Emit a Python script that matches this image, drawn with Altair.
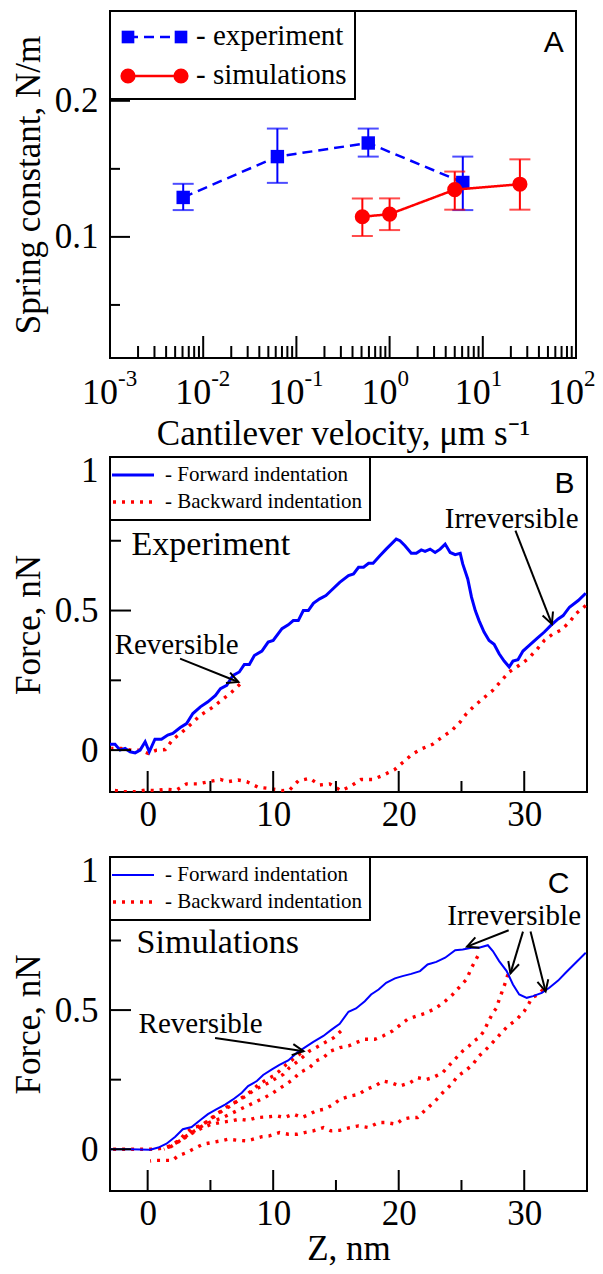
import math
import altair as alt
import pandas as pd

SERIF = "Liberation Serif"
SANS = "Liberation Sans"
BLUE = "#0000ff"
RED = "#ff0000"

# ---------------- Panel A data ----------------
exp_v = [0.0061, 0.0625, 0.59, 6.1]
exp_k = [0.129, 0.159, 0.169, 0.140]
exp_lo = [0.1197, 0.1397, 0.159, 0.1197]
exp_hi = [0.139, 0.1796, 0.1796, 0.159]
sim_v = [0.51, 1.0, 5.0, 25.0]
sim_k = [0.1148, 0.1167, 0.1347, 0.1387]
sim_lo = [0.1007, 0.105, 0.120, 0.120]
sim_hi = [0.1283, 0.1283, 0.148, 0.157]
a_decades = [-3, -2, -1, 0, 1, 2]
a_yticks = [0.1, 0.2]
a_yminor = [0.05, 0.15]

# ---------------- Panel B data ----------------
b_fwd_x = [-3.0, -2.6, -2.2, -1.8, -1.4, -1.0, -0.6, -0.2, 0.13, 0.58, 1.1, 1.6, 2.0, 2.6, 3.1, 3.6, 4.2, 4.8,
           5.4, 5.8, 6.3, 6.8, 7.3, 7.7, 8.1, 8.5, 9.1, 9.6, 10.0, 10.7, 11.2, 11.6, 12.0, 12.4, 12.8, 13.2, 13.7,
           14.2, 14.6, 15.3, 16.0, 16.4, 16.8, 17.2, 17.6, 17.96, 18.5, 19.0, 19.4, 19.8, 20.1, 20.5, 21.0, 21.4,
           21.8, 22.1, 22.5, 22.9, 23.3, 23.7, 24.1, 24.5, 24.9, 25.1, 25.5, 25.8, 26.1, 26.4, 26.8, 27.2, 27.6,
           28.0, 28.4, 28.8, 29.1, 29.5, 29.9, 30.4, 31.0, 31.6, 32.1, 32.7, 33.1, 33.6, 34.3, 34.9]
b_fwd_y = [0.021, 0.021, 0.0, 0.006, -0.006, -0.01, 0.0, 0.03, -0.006, 0.039, 0.039, 0.054, 0.06, 0.081, 0.095,
           0.131, 0.155, 0.173, 0.196, 0.22, 0.232, 0.268, 0.28, 0.307, 0.307, 0.339, 0.355, 0.387, 0.393, 0.435,
           0.449, 0.464, 0.464, 0.5, 0.5, 0.526, 0.542, 0.554, 0.571, 0.601, 0.625, 0.631, 0.655, 0.655, 0.669,
           0.669, 0.696, 0.72, 0.738, 0.756, 0.75, 0.732, 0.705, 0.705, 0.717, 0.712, 0.72, 0.708, 0.72, 0.738,
           0.708, 0.70, 0.705, 0.667, 0.613, 0.548, 0.5, 0.464, 0.423, 0.393, 0.379, 0.345, 0.319, 0.298, 0.319,
           0.324, 0.355, 0.375, 0.399, 0.423, 0.446, 0.47, 0.482, 0.512, 0.536, 0.562]
b_bwd1_x = [7.35, 6.7, 5.9, 5.1, 4.2, 3.5, 2.7, 2.0, 1.4, 0.7, 0.05, -0.6, -1.3, -2.1, -2.9]
b_bwd1_y = [0.236, 0.208, 0.179, 0.151, 0.125, 0.095, 0.063, 0.038, 0.002, 0.0, -0.012, 0.0, 0.0, 0.006, 0.006]
b_bwd2_x = [34.9, 34.1, 33.6, 32.9, 32.3, 31.6, 31.0, 30.3, 29.6, 28.8, 28.2, 27.5, 26.8, 26.0, 25.4, 24.9, 24.2,
            23.5, 22.7, 21.9, 21.1, 20.3, 19.7, 18.8, 17.96, 17.0, 16.1, 15.4, 14.5, 13.7, 12.9, 12.0, 11.3, 10.7,
            9.6, 8.8, 7.9, 7.2, 6.4, 5.8, 5.2, 4.0, 3.1, 2.3, 1.5, 0.6, -0.2, -1.0, -1.9, -2.9]
b_bwd2_y = [0.518, 0.488, 0.458, 0.429, 0.417, 0.393, 0.36, 0.327, 0.304, 0.28, 0.25, 0.214, 0.188, 0.157,
            0.131, 0.101, 0.069, 0.048, 0.021, 0.006, -0.014, -0.045, -0.069, -0.089, -0.105, -0.105, -0.131,
            -0.145, -0.121, -0.125, -0.101, -0.11, -0.143, -0.145, -0.137, -0.133, -0.113, -0.107, -0.113,
            -0.105, -0.11, -0.121, -0.121, -0.143, -0.14, -0.145, -0.143, -0.149, -0.149, -0.143]

# ---------------- Panel C data ----------------
c_fwd_x = [-3.0, -1.4, 0.2, 0.85, 1.5, 2.2, 2.8, 3.5, 4.2, 4.8, 5.5, 6.2, 6.8, 7.5, 8.0, 8.7, 9.2, 9.9, 10.5,
           11.2, 11.9, 12.5, 13.2, 14.0, 14.6, 15.3, 16.0, 16.6, 17.3, 17.8, 18.4, 19.0, 19.7, 20.3, 21.0, 21.7,
           22.3, 23.0, 23.7, 24.5, 25.1, 25.8, 26.4, 27.1, 27.5, 28.0, 28.6, 29.1, 29.6, 30.2, 30.7, 31.4, 32.0,
           32.7, 33.3, 34.1, 34.9]
c_fwd_y = [0.0, 0.0, -0.002, 0.006, 0.02, 0.045, 0.072, 0.08, 0.105, 0.126, 0.144, 0.161, 0.179, 0.203, 0.227,
           0.245, 0.267, 0.287, 0.303, 0.319, 0.347, 0.365, 0.386, 0.407, 0.428, 0.451, 0.494, 0.506, 0.532,
           0.556, 0.574, 0.598, 0.614, 0.622, 0.63, 0.64, 0.664, 0.673, 0.688, 0.715, 0.718, 0.724, 0.724, 0.733,
           0.712, 0.676, 0.64, 0.592, 0.556, 0.544, 0.55, 0.562, 0.58, 0.606, 0.634, 0.67, 0.706]
# reversible retraction from ~15.4 nm
c_r1_x = [15.4, 14.8, 14.1, 13.4, 12.9, 12.0, 11.3, 10.8, 10.3, 9.7, 9.0, 8.4, 7.8, 7.2, 6.6, 6.0, 5.4, 4.8,
          4.2, 3.6, 3.0, 2.4, 1.8, 1.2]
c_r1_y = [0.425, 0.40, 0.383, 0.365, 0.353, 0.317, 0.293, 0.269, 0.257, 0.24, 0.225, 0.21, 0.19, 0.175, 0.155,
          0.14, 0.12, 0.10, 0.085, 0.065, 0.045, 0.03, 0.01, 0.0]
# reversible retraction from ~12.3 nm
c_r2_x = [12.2, 11.06, 10.5, 10.0, 9.5, 8.8, 8.4, 7.9, 7.5, 6.9, 6.4, 5.9, 5.4, 5.0, 4.6, 4.2, 3.6, 3.1, 2.7,
          2.3, 1.8, 1.2, 0.45, -0.5, -1.5, -2.5, -3.0]
c_r2_y = [0.345, 0.305, 0.281, 0.263, 0.251, 0.231, 0.215, 0.197, 0.185, 0.167, 0.155, 0.138, 0.126, 0.108,
          0.096, 0.084, 0.078, 0.06, 0.042, 0.024, 0.012, 0.004, 0.0, 0.0, 0.0, 0.0, 0.0]
# irreversible retraction from the force peak
c_i1_x = [26.3, 25.8, 25.4, 24.9, 24.3, 23.7, 23.0, 22.2, 21.4, 20.7, 20.1, 19.5, 18.75, 18.1, 17.3, 16.6, 16.0,
          15.3, 14.6, 14.0, 13.4, 12.9, 12.1, 11.6, 10.8, 10.0, 9.3, 8.6, 7.9, 7.2, 6.5, 5.8, 5.1, 4.4, 3.7,
          3.0, 2.4, 1.8, 1.3]
c_i1_y = [0.694, 0.652, 0.61, 0.586, 0.556, 0.532, 0.508, 0.49, 0.478, 0.467, 0.446, 0.425, 0.407, 0.395,
          0.395, 0.383, 0.371, 0.365, 0.353, 0.329, 0.317, 0.293, 0.275, 0.251, 0.227, 0.203, 0.185, 0.17,
          0.155, 0.14, 0.125, 0.11, 0.10, 0.085, 0.065, 0.045, 0.025, 0.008, 0.0]
c_i2_x = [28.7, 28.4, 28.2, 28.0, 27.8, 27.5, 27.1, 26.8, 26.4, 26.0, 25.6, 25.1, 24.6, 24.1, 23.5, 22.7, 22.2,
          21.5, 20.9, 20.1, 19.4, 18.75, 18.1, 17.4, 16.8, 16.1, 15.3, 14.8, 14.1, 13.4, 12.9, 12.3, 11.6, 10.9,
          10.3, 9.5, 8.7, 8.0, 7.3, 6.7, 5.8, 5.1, 4.4, 3.9, 3.4, 2.8, 2.3, 1.8, 1.4]
c_i2_y = [0.628, 0.586, 0.562, 0.538, 0.508, 0.49, 0.455, 0.425, 0.401, 0.389, 0.371, 0.353, 0.329, 0.305,
          0.275, 0.257, 0.251, 0.257, 0.239, 0.227, 0.239, 0.245, 0.227, 0.215, 0.197, 0.191, 0.179, 0.161,
          0.144, 0.138, 0.126, 0.114, 0.126, 0.114, 0.12, 0.116, 0.114, 0.104, 0.108, 0.102, 0.096, 0.09,
          0.078, 0.066, 0.054, 0.036, 0.024, 0.012, 0.0]
c_i3_x = [31.5, 31.1, 30.6, 30.4, 30.0, 29.4, 28.7, 28.2, 27.6, 27.1, 26.4, 25.9, 25.3, 24.7, 24.2, 23.5, 22.9,
          22.2, 21.5, 21.0, 20.3, 19.8, 19.0, 18.4, 17.6, 16.8, 16.1, 15.3, 14.6, 14.0, 13.2, 12.5, 11.9, 11.2,
          10.5, 9.7, 9.1, 8.4, 7.9, 7.2, 6.4, 5.8, 5.1, 4.4, 3.6, 3.1, 2.4, 2.0, 1.2, 0.6, 0.2]
c_i3_y = [0.574, 0.556, 0.544, 0.526, 0.496, 0.466, 0.443, 0.419, 0.389, 0.365, 0.335, 0.305, 0.281, 0.263,
          0.233, 0.203, 0.173, 0.144, 0.114, 0.114, 0.108, 0.09, 0.096, 0.096, 0.078, 0.084, 0.078, 0.068,
          0.066, 0.078, 0.066, 0.06, 0.054, 0.054, 0.06, 0.048, 0.045, 0.036, 0.03, 0.032, 0.036, 0.03, 0.024,
          0.018, 0.0, -0.012, -0.024, -0.04, -0.04, -0.04, -0.042]

bc_xticks = [0, 10, 20, 30]
bc_xminor = [5, 15, 25]
bc_yticks = [0, 0.5, 1]
bc_yminor = [0.25, 0.75]

# arrows: (x_start, y_start, x_tip, y_tip)
b_arrows = [(2.58, 0.328, 7.23, 0.244), (29.3, 0.786, 32.2, 0.452)]
c_arrows = [(5.37, 0.40, 12.42, 0.352), (28.76, 0.787, 25.44, 0.728),
            (29.9, 0.782, 28.9, 0.632), (30.5, 0.782, 31.7, 0.567)]

# ---------------- geometry ----------------
WA, HA = 466, 347
WB, HB = 477, 335
WC, HC = 477, 334
A_YDOM = [0.011, 0.266]
A_XDOM = [0.001, 100]
BC_XDOM = [-3, 35]
BC_YDOM = [-0.15, 1.05]

FONTS = dict(labelFont=SERIF, titleFont=SERIF, labelColor="black", titleColor="black", titleFontWeight="normal")


def curve_df(xs, ys, name):
    return pd.DataFrame({"x": xs, "y": ys, "i": list(range(len(xs))), "c": name})


# ============ Panel A ============
A_XAX = alt.Axis(labels=False, ticks=False, domain=False, grid=False,
                 title="Cantilever velocity, μm s⁻¹", titleFontSize=35, titlePadding=58, **FONTS)
A_YAX = alt.Axis(values=a_yticks, format=".1f", ticks=False, domain=False, grid=False, labelFontSize=35,
                 labelPadding=12, title="Spring constant, N/m", titleFontSize=35, titlePadding=8, **FONTS)
axs = alt.Scale(type="log", domain=A_XDOM, nice=False)
ays = alt.Scale(domain=A_YDOM, nice=False, zero=False)


def AX(f="x"):
    return alt.X(f"{f}:Q", scale=axs, axis=A_XAX)


def AY(f="y"):
    return alt.Y(f"{f}:Q", scale=ays, axis=A_YAX)


exp_df = pd.DataFrame({"x": exp_v, "y": exp_k, "lo": exp_lo, "hi": exp_hi, "i": range(4)})
sim_df = pd.DataFrame({"x": sim_v, "y": sim_k, "lo": sim_lo, "hi": sim_hi, "i": range(4)})

a_layers = []
for df, col, dash, shape, size in [(exp_df, BLUE, [10, 6], "square", 180), (sim_df, RED, [1, 0], "circle", 230)]:
    base = alt.Chart(df)
    a_layers.append(base.mark_line(color=col, strokeWidth=2.5, strokeDash=dash).encode(x=AX(), y=AY(), order="i:Q"))
    a_layers.append(base.mark_rule(color=col, strokeWidth=2).encode(x=AX(), y=AY("lo"), y2="hi:Q"))
    a_layers.append(base.mark_tick(color=col, orient="horizontal", size=21, thickness=2).encode(x=AX(), y=AY("lo")))
    a_layers.append(base.mark_tick(color=col, orient="horizontal", size=21, thickness=2).encode(x=AX(), y=AY("hi")))
    a_layers.append(base.mark_point(color=col, shape=shape, filled=True, opacity=1, size=size).encode(x=AX(), y=AY()))

minor_vals = [m * 10 ** e for e in a_decades[:-1] for m in range(2, 10)]
maj_df = pd.DataFrame({"x": [10 ** e for e in a_decades]})
min_df = pd.DataFrame({"x": minor_vals})
a_layers.append(alt.Chart(maj_df).mark_rule(color="black", strokeWidth=2).encode(
    x=AX(), y=alt.value(HA), y2=alt.value(HA - 22)))
a_layers.append(alt.Chart(min_df).mark_rule(color="black", strokeWidth=2).encode(
    x=AX(), y=alt.value(HA), y2=alt.value(HA - 12)))
a_layers.append(alt.Chart(pd.DataFrame({"y": a_yticks})).mark_rule(color="black", strokeWidth=2).encode(
    y=AY(), x=alt.value(0), x2=alt.value(20)))
a_layers.append(alt.Chart(pd.DataFrame({"y": a_yminor})).mark_rule(color="black", strokeWidth=2).encode(
    y=AY(), x=alt.value(0), x2=alt.value(10)))

lab_df = pd.DataFrame({"x": [10 ** e for e in a_decades], "e": [str(e) for e in a_decades]})
a_layers.append(alt.Chart(lab_df).mark_text(font=SERIF, fontSize=36, align="center", baseline="alphabetic",
                                            dx=-10, color="black").encode(
    x=AX(), y=alt.value(HA + 46), text=alt.value("10")))
a_layers.append(alt.Chart(lab_df).mark_text(font=SERIF, fontSize=23, align="left", baseline="alphabetic",
                                            dx=8, color="black").encode(
    x=AX(), y=alt.value(HA + 28), text="e:N"))

# legend A
one = pd.DataFrame({"k": [0]})
a_layers.append(alt.Chart(one).mark_rect(fill="white", stroke="black", strokeWidth=2).encode(
    x=alt.value(0), x2=alt.value(245), y=alt.value(0), y2=alt.value(88)))
a_layers.append(alt.Chart(one).mark_rule(color=BLUE, strokeWidth=2.5, strokeDash=[10, 6]).encode(
    x=alt.value(18), x2=alt.value(71), y=alt.value(26)))
a_layers.append(alt.Chart(one).mark_rule(color=RED, strokeWidth=2.5).encode(
    x=alt.value(18), x2=alt.value(71), y=alt.value(65)))
for xx in (18, 71):
    a_layers.append(alt.Chart(one).mark_point(shape="square", filled=True, color=BLUE, opacity=1, size=160).encode(
        x=alt.value(xx), y=alt.value(26)))
    a_layers.append(alt.Chart(one).mark_point(shape="circle", filled=True, color=RED, opacity=1, size=230).encode(
        x=alt.value(xx), y=alt.value(65)))
a_layers.append(alt.Chart(one).mark_text(font=SERIF, fontSize=29, align="left", baseline="middle").encode(
    x=alt.value(86), y=alt.value(25), text=alt.value("- experiment")))
a_layers.append(alt.Chart(one).mark_text(font=SERIF, fontSize=29, align="left", baseline="middle").encode(
    x=alt.value(86), y=alt.value(64), text=alt.value("- simulations")))
a_layers.append(alt.Chart(pd.DataFrame({"x": [74], "y": [0.236]})).mark_text(
    font=SANS, fontSize=30, align="right", baseline="alphabetic").encode(x=AX(), y=AY(), text=alt.value("A")))

panelA = alt.layer(*a_layers).properties(width=WA, height=HA)


# ============ Panels B and C ============
def force_panel(W, H, fwd_df, bwd_df, fwd_w, arrows, texts, letter, show_xtitle):
    xax = alt.Axis(values=bc_xticks, format="d", ticks=False, domain=False, grid=False, labelFontSize=35,
                   labelPadding=5, title="Z, nm" if show_xtitle else None, titleFontSize=35, titlePadding=0,
                   **FONTS)
    yax = alt.Axis(values=bc_yticks, format="~g", ticks=False, domain=False, grid=False, labelFontSize=35,
                   labelPadding=12, title="Force, nN", titleFontSize=35, titlePadding=8, **FONTS)
    xsc = alt.Scale(domain=BC_XDOM, nice=False, zero=False)
    ysc = alt.Scale(domain=BC_YDOM, nice=False, zero=False)
    kx = W / (BC_XDOM[1] - BC_XDOM[0])
    ky = H / (BC_YDOM[1] - BC_YDOM[0])

    def X(f="x"):
        return alt.X(f"{f}:Q", scale=xsc, axis=xax)

    def Y(f="y"):
        return alt.Y(f"{f}:Q", scale=ysc, axis=yax)

    L = []
    L.append(alt.Chart(bwd_df).mark_line(color=RED, strokeWidth=3.4, strokeDash=[3, 6], clip=True).encode(
        x=X(), y=Y(), detail="c:N", order="i:Q"))
    L.append(alt.Chart(fwd_df).mark_line(color=BLUE, strokeWidth=fwd_w, clip=True).encode(
        x=X(), y=Y(), order="i:Q"))
    # ticks
    L.append(alt.Chart(pd.DataFrame({"x": bc_xticks})).mark_rule(color="black", strokeWidth=2).encode(
        x=X(), y=alt.value(H), y2=alt.value(H - 21)))
    L.append(alt.Chart(pd.DataFrame({"x": bc_xminor})).mark_rule(color="black", strokeWidth=2).encode(
        x=X(), y=alt.value(H), y2=alt.value(H - 11)))
    L.append(alt.Chart(pd.DataFrame({"y": bc_yticks})).mark_rule(color="black", strokeWidth=2).encode(
        y=Y(), x=alt.value(0), x2=alt.value(21)))
    L.append(alt.Chart(pd.DataFrame({"y": bc_yminor})).mark_rule(color="black", strokeWidth=2).encode(
        y=Y(), x=alt.value(0), x2=alt.value(11)))
    # arrows
    ar = pd.DataFrame(arrows, columns=["x", "y", "x2", "y2"])
    ar["ang"] = [(math.degrees(math.atan2(-(r.y2 - r.y) * ky, (r.x2 - r.x) * kx)) + 360) % 360
                 for r in ar.itertuples()]
    L.append(alt.Chart(ar).mark_rule(color="black", strokeWidth=2).encode(
        x=X(), y=Y(), x2="x2:Q", y2="y2:Q"))
    L.append(alt.Chart(ar).mark_point(shape="M -1 -0.5 L 0 0 L -1 0.5", filled=False, color="black",
                                      strokeWidth=2, size=500, opacity=1).encode(
        x=X("x2"), y=Y("y2"), angle=alt.Angle("ang:Q", scale=None)))
    # texts
    for (tx, ty, s, fs, al) in texts:
        L.append(alt.Chart(pd.DataFrame({"x": [tx], "y": [ty]})).mark_text(
            font=SERIF, fontSize=fs, align=al, baseline="alphabetic", color="black").encode(
            x=X(), y=Y(), text=alt.value(s)))
    L.append(alt.Chart(pd.DataFrame({"x": [letter[1]], "y": [letter[2]]})).mark_text(
        font=SANS, fontSize=30, align="right", baseline="alphabetic").encode(x=X(), y=Y(), text=alt.value(letter[0])))
    # legend
    L.append(alt.Chart(one).mark_rect(fill="white", stroke="black", strokeWidth=2).encode(
        x=alt.value(0), x2=alt.value(260), y=alt.value(0), y2=alt.value(63)))
    L.append(alt.Chart(one).mark_rule(color=BLUE, strokeWidth=fwd_w).encode(
        x=alt.value(2), x2=alt.value(44), y=alt.value(18)))
    L.append(alt.Chart(one).mark_rule(color=RED, strokeWidth=3.4, strokeDash=[3, 6]).encode(
        x=alt.value(3), x2=alt.value(46), y=alt.value(45)))
    L.append(alt.Chart(one).mark_text(font=SERIF, fontSize=21, align="left", baseline="middle").encode(
        x=alt.value(55), y=alt.value(18), text=alt.value("- Forward indentation")))
    L.append(alt.Chart(one).mark_text(font=SERIF, fontSize=21, align="left", baseline="middle").encode(
        x=alt.value(55), y=alt.value(45), text=alt.value("- Backward indentation")))
    return alt.layer(*L).properties(width=W, height=H)


b_fwd = curve_df(b_fwd_x, b_fwd_y, "f")
b_bwd = pd.concat([curve_df(b_bwd1_x, b_bwd1_y, "b1"), curve_df(b_bwd2_x, b_bwd2_y, "b2")])
c_fwd = curve_df(c_fwd_x, c_fwd_y, "f")
c_bwd = pd.concat([curve_df(c_r1_x, c_r1_y, "r1"), curve_df(c_r2_x, c_r2_y, "r2"),
                   curve_df(c_i1_x, c_i1_y, "i1"), curve_df(c_i2_x, c_i2_y, "i2"),
                   curve_df(c_i3_x, c_i3_y, "i3")])

panelB = force_panel(WB, HB, b_fwd, b_bwd, 3, b_arrows,
                     [(-1.28, 0.70, "Experiment", 34, "left"), (-2.63, 0.346, "Reversible", 29, "left"),
                      (29.0, 0.796, "Irreversible", 29, "center")],
                     ("B", 34.0, 0.92), False)
panelC = force_panel(WC, HC, c_fwd, c_bwd, 2, c_arrows,
                     [(-0.88, 0.704, "Simulations", 34, "left"), (-0.72, 0.418, "Reversible", 29, "left"),
                      (29.2, 0.804, "Irreversible", 29, "center")],
                     ("C", 33.6, 0.921), True)

chart = alt.vconcat(panelA, alt.vconcat(panelB, panelC, spacing=19), spacing=0).properties(
    padding={"left": 10, "top": 9, "right": 5, "bottom": 0}
).configure_view(stroke="black", strokeWidth=2).configure_axis(**FONTS)

chart.save("out.html", embed_options={"renderer": "svg", "actions": False})
